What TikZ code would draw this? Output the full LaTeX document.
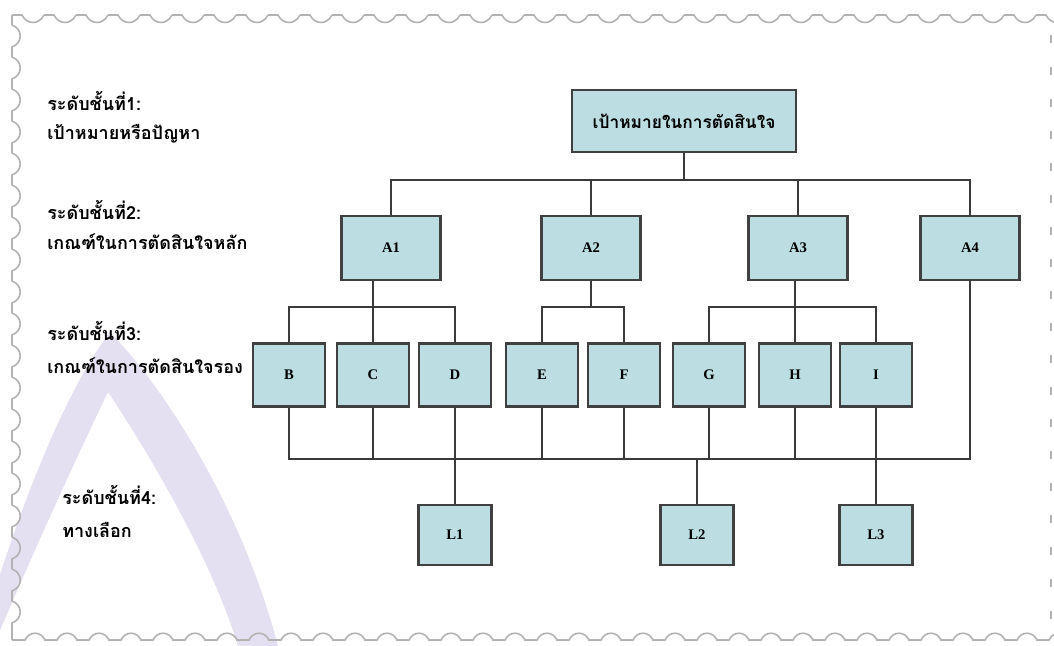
\documentclass[tikz,border=0pt]{standalone}
\usepackage{fontspec}
\setmainfont{Liberation Serif}
\newfontfamily\thaifont[Script=Thai]{Loma}
\definecolor{boxfill}{RGB}{188,222,226}
\definecolor{boxline}{RGB}{64,64,64}
\definecolor{connline}{RGB}{58,58,58}
\definecolor{edgegray}{RGB}{178,178,178}
\definecolor{wmark}{RGB}{229,224,241}
\tikzset{
  box/.style={draw=boxline, fill=boxfill, line width=1.8pt, inner sep=0pt,
    font=\fontsize{11}{13}\selectfont\bfseries},
  abox/.style={box, minimum width=74pt, minimum height=48pt},
  cbox/.style={box, minimum width=54pt, minimum height=47pt},
  lbox/.style={box, minimum width=55pt, minimum height=45pt},
  conn/.style={draw=connline, line width=1.5pt},
  lvl/.style={anchor=base west, inner sep=0pt,
    font=\thaifont\fontsize{13.5}{15}\selectfont\bfseries},
  stampedge/.style={draw=edgegray, line width=1.2pt},
}
\begin{document}
\begin{tikzpicture}[x=0.75pt,y=-0.75pt]
\useasboundingbox (0,0) rectangle (1054,646);
\fill[white] (0,0) rectangle (1054,646);

% watermark
\fill[wmark] (-5,590) .. controls (30,480) and (70,385) .. (110,332)
  .. controls (175,400) and (245,520) .. (278,646) -- (238,646)
  .. controls (212,560) and (150,455) .. (108,392)
  .. controls (85,440) and (45,525) .. (-5,642) -- cycle;

% stamp-like border
\draw[stampedge] (12,15) -- (12,25);
\foreach \i in {0,...,32} {
  \draw[stampedge] ({12+32*\i},15) -- ({22+32*\i},15)
    .. controls ({27+32*\i},25) and ({39+32*\i},25) .. ({44+32*\i},15);
}
\foreach \j in {0,...,18} {
  \draw[stampedge] (12,{25+32*\j}) .. controls (23,{29+32*\j}) and (23,{43+32*\j}) .. (12,{47+32*\j}) -- (12,{57+32*\j});
}
\draw[stampedge] (12,633) -- (12,640);
\foreach \i in {0,...,32} {
  \draw[stampedge] ({12+32*\i},640) -- ({25+32*\i},640)
    .. controls ({29+32*\i},631) and ({41+32*\i},631) .. ({45+32*\i},640);
}
\draw[stampedge, line width=1.6pt, dash pattern=on 6pt off 18pt] (1051,35) -- (1051,640);

% level labels
\node[lvl] (l1a) at (47,110) {ระดับชั้นที่1:};
\node[lvl] (l1b) at (47,139) {เป้าหมายหรือปัญหา};
\node[lvl] (l2a) at (47,219) {ระดับชั้นที่2:};
\node[lvl] (l2b) at (47,249) {เกณฑ์ในการตัดสินใจหลัก};
\node[lvl] (l3a) at (47,340) {ระดับชั้นที่3:};
\node[lvl] (l3b) at (47,373) {เกณฑ์ในการตัดสินใจรอง};
\node[lvl] (l4a) at (62,504) {ระดับชั้นที่4:};
\node[lvl] (l4b) at (62,537) {ทางเลือก};

% bus levels
\coordinate (b1) at (0,180);
\coordinate (b2) at (0,307);
\coordinate (b3) at (0,459);

% nodes
\node[box, minimum width=168pt, minimum height=46.5pt, font=\thaifont\fontsize{13}{15}\selectfont\bfseries] (T) at (684,121) {เป้าหมายในการตัดสินใจ};
\node[abox] (A1) at (391,248) {A1};
\node[abox] (A2) at (591,248) {A2};
\node[abox] (A3) at (798,248) {A3};
\node[abox] (A4) at (970,248) {A4};

\node[cbox] (B) at (289,375) {B};
\node[cbox] (C) at (373,375) {C};
\node[cbox] (D) at (455,375) {D};
\node[cbox] (E) at (542,375) {E};
\node[cbox] (F) at (624,375) {F};
\node[cbox] (G) at (709,375) {G};
\node[cbox] (H) at (795,375) {H};
\node[cbox] (I) at (876,375) {I};

\node[lbox] (L1) at (455,535) {L1};
\node[lbox] (L2) at (697,535) {L2};
\node[lbox] (L3) at (876,535) {L3};

% level 1 -> 2
\draw[conn] (T.south) -- (T.south |- b1);
\draw[conn] (A1.north) -- (A1.north |- b1) -- (A4.north |- b1) -- (A4.north);
\draw[conn] (A2.north) -- (A2.north |- b1);
\draw[conn] (A3.north) -- (A3.north |- b1);

% level 2 -> 3
\draw[conn] (A1.south -| C.north) -- (C.north);
\draw[conn] (B.north) -- (B.north |- b2) -- (D.north |- b2) -- (D.north);
\draw[conn] (A2.south) -- (A2.south |- b2);
\draw[conn] (E.north) -- (E.north |- b2) -- (F.north |- b2) -- (F.north);
\draw[conn] (A3.south -| H.north) -- (H.north);
\draw[conn] (G.north) -- (G.north |- b2) -- (I.north |- b2) -- (I.north);

% level 3 -> 4
\draw[conn] (B.south) -- (B.south |- b3) -- (A4.south |- b3) -- (A4.south);
\draw[conn] (C.south) -- (C.south |- b3);
\draw[conn] (D.south) -- (L1.north);
\draw[conn] (E.south) -- (E.south |- b3);
\draw[conn] (F.south) -- (F.south |- b3);
\draw[conn] (G.south) -- (G.south |- b3);
\draw[conn] (H.south) -- (H.south |- b3);
\draw[conn] (I.south) -- (L3.north);
\draw[conn] (L2.north) -- (L2.north |- b3);
\end{tikzpicture}
\end{document}
